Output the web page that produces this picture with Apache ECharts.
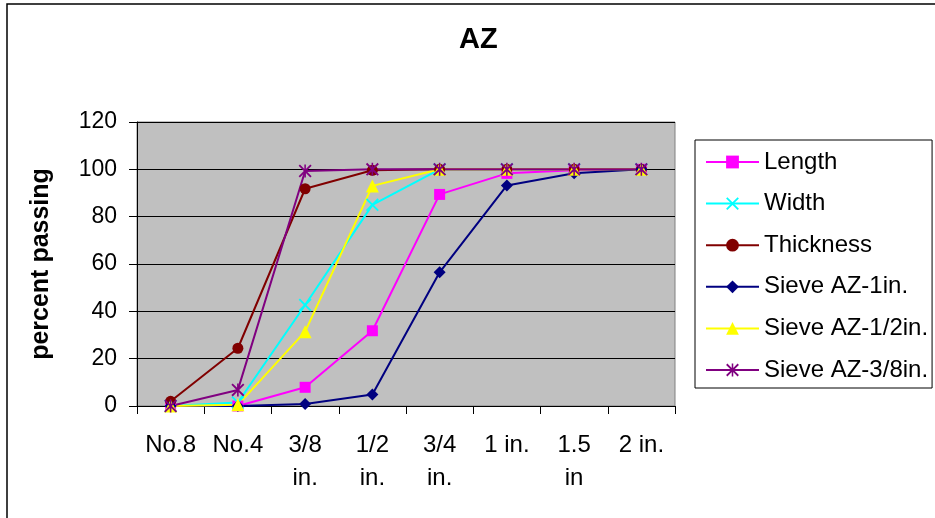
<!DOCTYPE html>
<html>
<head>
<meta charset="utf-8">
<script src="https://cdn.jsdelivr.net/npm/echarts@6/dist/echarts.min.js"></script>
<style>html,body{margin:0;padding:0;background:#fff;}#c{width:935px;height:518px;}</style>
</head>
<body>
<div id="c"></div>
<script>
var categories = ['No.8', 'No.4', '3/8\nin.', '1/2\nin.', '3/4\nin.', '1 in.', '1.5\nin', '2 in.'];
var yTicks = [0, 20, 40, 60, 80, 100, 120];
var lengthVals = [0, 0, 7.9, 31.8, 89.4, 98.3, 99.6, 100];
var widthVals = [0, 1.5, 42.7, 85, 100, 100, 100, 100];
var thicknessVals = [2, 24.4, 91.8, 99.6, 100, 100, 100, 100];
var sieve1Vals = [0, 0, 0.8, 4.9, 56.5, 93.2, 98.3, 100];
var sieveHalfVals = [0, 0.5, 31.4, 93, 100, 100, 100, 100];
var sieve38Vals = [0, 6.8, 99.3, 100, 100, 100, 100, 100];

var FONT = 'Liberation Sans, Arial, sans-serif';
var xPath = 'path://M1,0 L5,4 L9,0 L10,1 L6,5 L10,9 L9,10 L5,6 L1,10 L0,9 L4,5 L0,1 Z';
var starPath = 'path://M1,0 L5,4 L9,0 L10,1 L6,5 L10,9 L9,10 L5,6 L1,10 L0,9 L4,5 L0,1 Z M4.4,0 L5.6,0 L5.6,10 L4.4,10 Z';

function mk(name, data, color, symbol, size) {
  return {
    name: name, type: 'line', data: data, symbol: symbol, symbolSize: size,
    lineStyle: {color: color, width: 2},
    itemStyle: {color: color, borderWidth: 0},
    emphasis: {disabled: true}
  };
}

var chart = echarts.init(document.getElementById('c'));
chart.setOption({
  animation: false,
  backgroundColor: '#fff',
  textStyle: {fontFamily: FONT},
  graphic: [{
    type: 'rect', shape: {x: 7, y: 4, width: 1000, height: 700},
    style: {fill: 'none', stroke: '#000', lineWidth: 1.5}, silent: true, z: -10
  }],
  title: {
    text: 'AZ', left: 459, top: 25, padding: 0,
    textStyle: {fontFamily: FONT, fontSize: 29, fontWeight: 'bold', color: '#000'}
  },
  legend: {
    orient: 'vertical', left: 695, top: 140,
    padding: [10, 4, 6, 10],
    borderColor: '#000', borderWidth: 1,
    itemWidth: 53, itemHeight: 16, itemGap: 17.6,
    textStyle: {fontFamily: FONT, fontSize: 24, color: '#000', lineHeight: 24},
    data: ['Length', 'Width', 'Thickness', 'Sieve AZ-1in.', 'Sieve AZ-1/2in.', 'Sieve AZ-3/8in.']
  },
  grid: {
    left: 137, right: 260, top: 122, bottom: 112,
    show: true, backgroundColor: '#C0C0C0', borderColor: '#808080', borderWidth: 1
  },
  xAxis: {
    type: 'category', data: categories, boundaryGap: true,
    axisLine: {lineStyle: {color: '#000', width: 1}},
    axisTick: {show: true, length: 8, lineStyle: {color: '#000'}},
    axisLabel: {fontFamily: FONT, fontSize: 24, color: '#000', margin: 23, lineHeight: 33, interval: 0}
  },
  yAxis: {
    type: 'value', min: yTicks[0], max: yTicks[yTicks.length - 1], interval: 20,
    name: 'percent passing', nameLocation: 'middle', nameRotate: 90, nameGap: 83,
    nameTextStyle: {fontFamily: FONT, fontSize: 25, fontWeight: 'bold', color: '#000'},
    axisLine: {show: true, lineStyle: {color: '#000', width: 1}},
    axisTick: {show: true, length: 8, lineStyle: {color: '#000'}},
    axisLabel: {fontFamily: FONT, fontSize: 23, color: '#000', margin: 20},
    splitLine: {show: true, lineStyle: {color: '#000', width: 1}}
  },
  series: [
    mk('Length', lengthVals, '#FF00FF', 'rect', 11),
    mk('Width', widthVals, '#00FFFF', xPath, 13),
    mk('Thickness', thicknessVals, '#800000', 'circle', 11),
    mk('Sieve AZ-1in.', sieve1Vals, '#000080', 'diamond', 12),
    mk('Sieve AZ-1/2in.', sieveHalfVals, '#FFFF00', 'triangle', 13),
    mk('Sieve AZ-3/8in.', sieve38Vals, '#800080', starPath, 13)
  ]
});
</script>
</body>
</html>
